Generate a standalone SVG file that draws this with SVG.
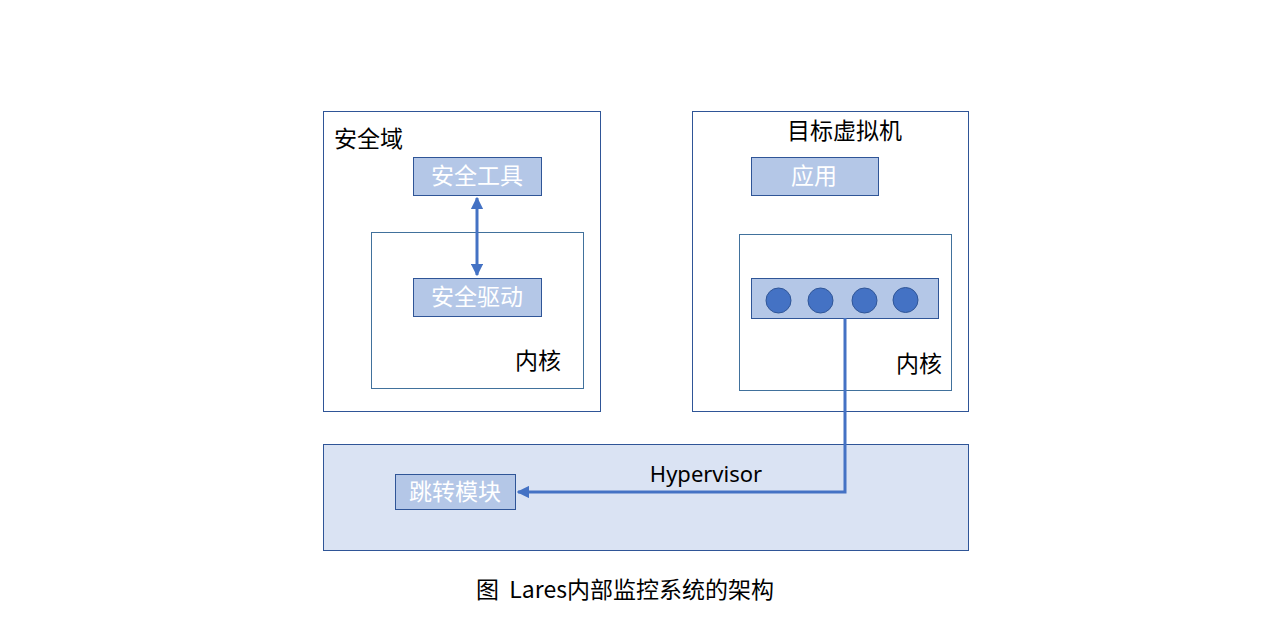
<svg xmlns="http://www.w3.org/2000/svg" width="1280" height="643" viewBox="0 0 1280 643">
<defs>
<style>
.outer{fill:#ffffff;stroke:#2f5597;stroke-width:1}
.kern{fill:#ffffff;stroke:#41719c;stroke-width:1}
.mod{fill:#b4c7e7;stroke:#2f5597;stroke-width:1}
.hv{fill:#dae3f3;stroke:#2f5597;stroke-width:1}
.dot{fill:#4472c4;stroke:#2f5597;stroke-width:1}
.t{font-family:"Noto Sans CJK SC","Noto Sans",sans-serif;font-size:23px;fill:#000}
.w{font-family:"Noto Sans CJK SC","Noto Sans",sans-serif;font-size:23px;fill:#ffffff;text-anchor:middle}
.c{stroke:#4472c4;stroke-width:3;fill:none}
</style>
<marker id="ah" viewBox="0 0 10 10" refX="9" refY="5" markerWidth="4.2" markerHeight="4.2" orient="auto-start-reverse" markerUnits="strokeWidth">
<path d="M0,0 L10,5 L0,10 z" fill="#4472c4"/>
</marker>
</defs>
<rect width="1280" height="643" fill="#ffffff"/>
<g id="security-domain">
<rect class="outer" x="323.5" y="111.5" width="277" height="300"/>
<text class="t" x="334" y="147">安全域</text>
</g>
<g id="security-kernel">
<rect class="kern" x="371.5" y="232.5" width="212" height="156"/>
<text class="t" x="515" y="369">内核</text>
</g>
<g id="security-tool">
<rect class="mod" x="413.5" y="157.5" width="128" height="38"/>
<text class="w" x="477" y="184">安全工具</text>
</g>
<g id="security-driver">
<rect class="mod" x="413.5" y="278.5" width="128" height="38"/>
<text class="w" x="477" y="305">安全驱动</text>
</g>
<g id="target-vm">
<rect class="outer" x="692.5" y="111.5" width="276" height="300"/>
<text class="t" x="787" y="139">目标虚拟机</text>
</g>
<g id="app">
<rect class="mod" x="751.5" y="157.5" width="127" height="38"/>
<text class="w" x="814" y="184">应用</text>
</g>
<g id="target-kernel">
<rect class="kern" x="739.5" y="234.5" width="212" height="156"/>
<text class="t" x="896" y="372">内核</text>
</g>
<g id="hooks">
<rect class="mod" x="751.5" y="278.5" width="187" height="40"/>
<circle class="dot" cx="778.5" cy="300.5" r="12.5"/>
<circle class="dot" cx="820.5" cy="300.5" r="12.5"/>
<circle class="dot" cx="864.5" cy="300.5" r="12.5"/>
<circle class="dot" cx="905.5" cy="300" r="12.5"/>
</g>
<g id="hypervisor">
<rect class="hv" x="323.5" y="444.5" width="645" height="106"/>
<text x="706" y="482" text-anchor="middle" style="font-family:'Noto Sans',sans-serif;font-size:22px;fill:#000">Hypervisor</text>
</g>
<g id="jump-module">
<rect class="mod" x="395.5" y="474.5" width="120" height="35"/>
<text class="w" x="455" y="500">跳转模块</text>
</g>
<g id="connectors">
<line class="c" x1="477" y1="198" x2="477" y2="275" marker-start="url(#ah)" marker-end="url(#ah)"/>
<polyline class="c" points="845,318 845,492 518,492" marker-end="url(#ah)"/>
</g>
<text class="t" x="625" y="598" text-anchor="middle" xml:space="preserve">图  Lares内部监控系统的架构</text>
</svg>
